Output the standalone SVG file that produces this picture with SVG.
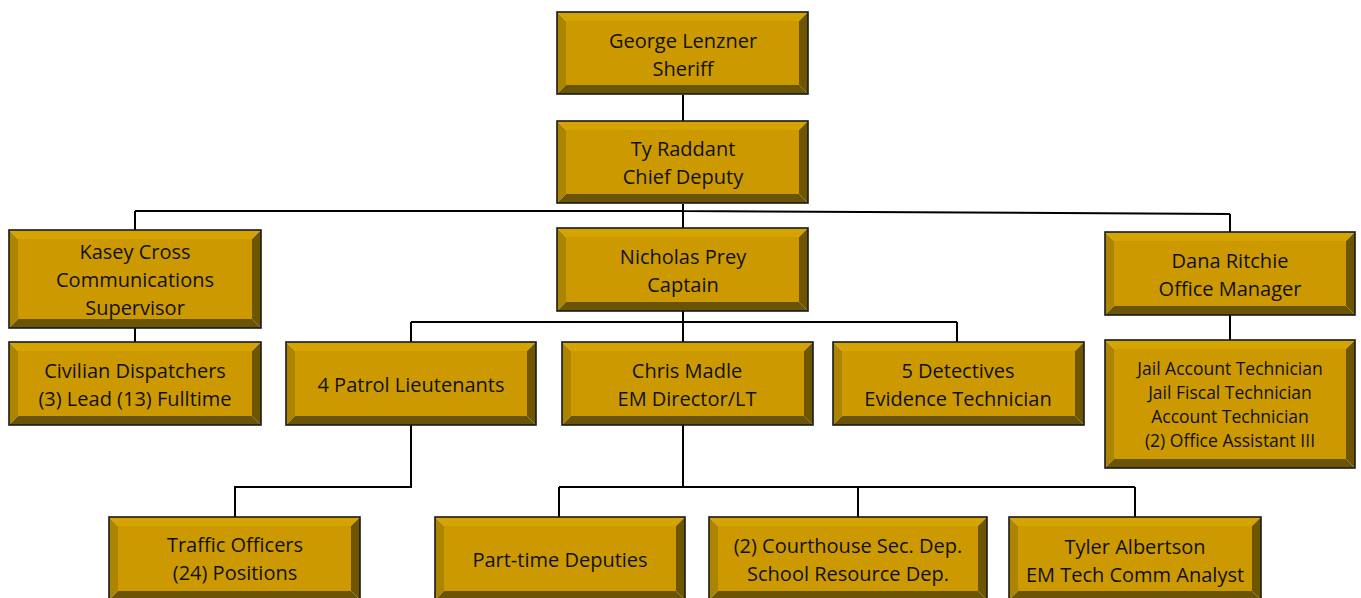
<svg xmlns="http://www.w3.org/2000/svg" width="1361" height="598" viewBox="0 0 1361 598">
<style>
.t{fill:#D6A400}.l{fill:#AD8400}.r{fill:#6E5600}.b{fill:#6A5408}.f{fill:#CC9A00}
.o{fill:none;stroke:#1a1a1a;stroke-width:1.6}
text{font-family:"Open Sans","Liberation Sans",sans-serif;font-size:20px;fill:#111;text-anchor:middle}
.s{font-size:17.5px}
#connectors path{fill:none;stroke:#000;stroke-width:2}
</style>
<rect width="1361" height="598" fill="#fff"/>
<g id="connectors">
<path d="M683,95V121"/>
<path d="M683,204V211M135,211H683M683,211L1230,214"/>
<path d="M135,211V230"/>
<path d="M683,211V228"/>
<path d="M1230,214V232"/>
<path d="M135,328V342"/>
<path d="M1230,315V340"/>
<path d="M683,311V322M411,322H957M411,322V342M683,322V342M957,322V342"/>
<path d="M411,425V487H235V517"/>
<path d="M683,425V487M559,487H1135M559,487V517M858,487V517M1135,487V517"/>
</g>
<g id="n-george">
<polygon class="t" points="557,12 808,12 799,21 566,21"/><polygon class="l" points="557,12 566,21 566,85 557,94"/><polygon class="r" points="808,12 808,94 799,85 799,21"/><polygon class="b" points="557,94 566,85 799,85 808,94"/><rect class="f" x="566" y="21" width="233" height="64"/><rect class="o" x="557" y="12" width="251" height="82"/>
<text x="683" y="48">George Lenzner</text><text x="683" y="76">Sheriff</text>
</g>
<g id="n-ty">
<polygon class="t" points="557,121 808,121 799,130 566,130"/><polygon class="l" points="557,121 566,130 566,194 557,203"/><polygon class="r" points="808,121 808,203 799,194 799,130"/><polygon class="b" points="557,203 566,194 799,194 808,203"/><rect class="f" x="566" y="130" width="233" height="64"/><rect class="o" x="557" y="121" width="251" height="82"/>
<text x="683" y="156">Ty Raddant</text><text x="683" y="184">Chief Deputy</text>
</g>
<g id="n-kasey">
<polygon class="t" points="9,230 261,230 252,239 18,239"/><polygon class="l" points="9,230 18,239 18,319 9,328"/><polygon class="r" points="261,230 261,328 252,319 252,239"/><polygon class="b" points="9,328 18,319 252,319 261,328"/><rect class="f" x="18" y="239" width="234" height="80"/><rect class="o" x="9" y="230" width="252" height="98"/>
<text x="135" y="259">Kasey Cross</text><text x="135" y="287">Communications</text><text x="135" y="315">Supervisor</text>
</g>
<g id="n-civilian">
<polygon class="t" points="9,342 261,342 252,351 18,351"/><polygon class="l" points="9,342 18,351 18,416 9,425"/><polygon class="r" points="261,342 261,425 252,416 252,351"/><polygon class="b" points="9,425 18,416 252,416 261,425"/><rect class="f" x="18" y="351" width="234" height="65"/><rect class="o" x="9" y="342" width="252" height="83"/>
<text x="135" y="378">Civilian Dispatchers</text><text x="135" y="406">(3) Lead (13) Fulltime</text>
</g>
<g id="n-nicholas">
<polygon class="t" points="557,228 808,228 799,237 566,237"/><polygon class="l" points="557,228 566,237 566,302 557,311"/><polygon class="r" points="808,228 808,311 799,302 799,237"/><polygon class="b" points="557,311 566,302 799,302 808,311"/><rect class="f" x="566" y="237" width="233" height="65"/><rect class="o" x="557" y="228" width="251" height="83"/>
<text x="683" y="264">Nicholas Prey</text><text x="683" y="292">Captain</text>
</g>
<g id="n-dana">
<polygon class="t" points="1105,232 1355,232 1346,241 1114,241"/><polygon class="l" points="1105,232 1114,241 1114,306 1105,315"/><polygon class="r" points="1355,232 1355,315 1346,306 1346,241"/><polygon class="b" points="1105,315 1114,306 1346,306 1355,315"/><rect class="f" x="1114" y="241" width="232" height="65"/><rect class="o" x="1105" y="232" width="250" height="83"/>
<text x="1230" y="268">Dana Ritchie</text><text x="1230" y="296">Office Manager</text>
</g>
<g id="n-jail">
<polygon class="t" points="1105,340 1355,340 1346,349 1114,349"/><polygon class="l" points="1105,340 1114,349 1114,459 1105,468"/><polygon class="r" points="1355,340 1355,468 1346,459 1346,349"/><polygon class="b" points="1105,468 1114,459 1346,459 1355,468"/><rect class="f" x="1114" y="349" width="232" height="110"/><rect class="o" x="1105" y="340" width="250" height="128"/>
<text class="s" x="1230" y="375">Jail Account Technician</text><text class="s" x="1230" y="399">Jail Fiscal Technician</text><text class="s" x="1230" y="423">Account Technician</text><text class="s" x="1230" y="447">(2) Office Assistant III</text>
</g>
<g id="n-patrol">
<polygon class="t" points="286,342 536,342 527,351 295,351"/><polygon class="l" points="286,342 295,351 295,416 286,425"/><polygon class="r" points="536,342 536,425 527,416 527,351"/><polygon class="b" points="286,425 295,416 527,416 536,425"/><rect class="f" x="295" y="351" width="232" height="65"/><rect class="o" x="286" y="342" width="250" height="83"/>
<text x="411" y="392">4 Patrol Lieutenants</text>
</g>
<g id="n-chris">
<polygon class="t" points="562,342 813,342 804,351 571,351"/><polygon class="l" points="562,342 571,351 571,416 562,425"/><polygon class="r" points="813,342 813,425 804,416 804,351"/><polygon class="b" points="562,425 571,416 804,416 813,425"/><rect class="f" x="571" y="351" width="233" height="65"/><rect class="o" x="562" y="342" width="251" height="83"/>
<text x="687" y="378">Chris Madle</text><text x="687" y="406">EM Director/LT</text>
</g>
<g id="n-detectives">
<polygon class="t" points="833,342 1084,342 1075,351 842,351"/><polygon class="l" points="833,342 842,351 842,416 833,425"/><polygon class="r" points="1084,342 1084,425 1075,416 1075,351"/><polygon class="b" points="833,425 842,416 1075,416 1084,425"/><rect class="f" x="842" y="351" width="233" height="65"/><rect class="o" x="833" y="342" width="251" height="83"/>
<text x="958" y="378">5 Detectives</text><text x="958" y="406">Evidence Technician</text>
</g>
<g id="n-traffic">
<polygon class="t" points="109,517 360,517 351,526 118,526"/><polygon class="l" points="109,517 118,526 118,591 109,600"/><polygon class="r" points="360,517 360,600 351,591 351,526"/><polygon class="b" points="109,600 118,591 351,591 360,600"/><rect class="f" x="118" y="526" width="233" height="65"/><rect class="o" x="109" y="517" width="251" height="83"/>
<text x="235" y="552">Traffic Officers</text><text x="235" y="580">(24) Positions</text>
</g>
<g id="n-parttime">
<polygon class="t" points="435,517 685,517 676,526 444,526"/><polygon class="l" points="435,517 444,526 444,591 435,600"/><polygon class="r" points="685,517 685,600 676,591 676,526"/><polygon class="b" points="435,600 444,591 676,591 685,600"/><rect class="f" x="444" y="526" width="232" height="65"/><rect class="o" x="435" y="517" width="250" height="83"/>
<text x="560" y="567">Part-time Deputies</text>
</g>
<g id="n-courthouse">
<polygon class="t" points="709,517 987,517 978,526 718,526"/><polygon class="l" points="709,517 718,526 718,591 709,600"/><polygon class="r" points="987,517 987,600 978,591 978,526"/><polygon class="b" points="709,600 718,591 978,591 987,600"/><rect class="f" x="718" y="526" width="260" height="65"/><rect class="o" x="709" y="517" width="278" height="83"/>
<text x="848" y="553">(2) Courthouse Sec. Dep.</text><text x="848" y="581">School Resource Dep.</text>
</g>
<g id="n-tyler">
<polygon class="t" points="1009,517 1261,517 1252,526 1018,526"/><polygon class="l" points="1009,517 1018,526 1018,591 1009,600"/><polygon class="r" points="1261,517 1261,600 1252,591 1252,526"/><polygon class="b" points="1009,600 1018,591 1252,591 1261,600"/><rect class="f" x="1018" y="526" width="234" height="65"/><rect class="o" x="1009" y="517" width="252" height="83"/>
<text x="1135" y="554">Tyler Albertson</text><text x="1135" y="582">EM Tech Comm Analyst</text>
</g>
</svg>
